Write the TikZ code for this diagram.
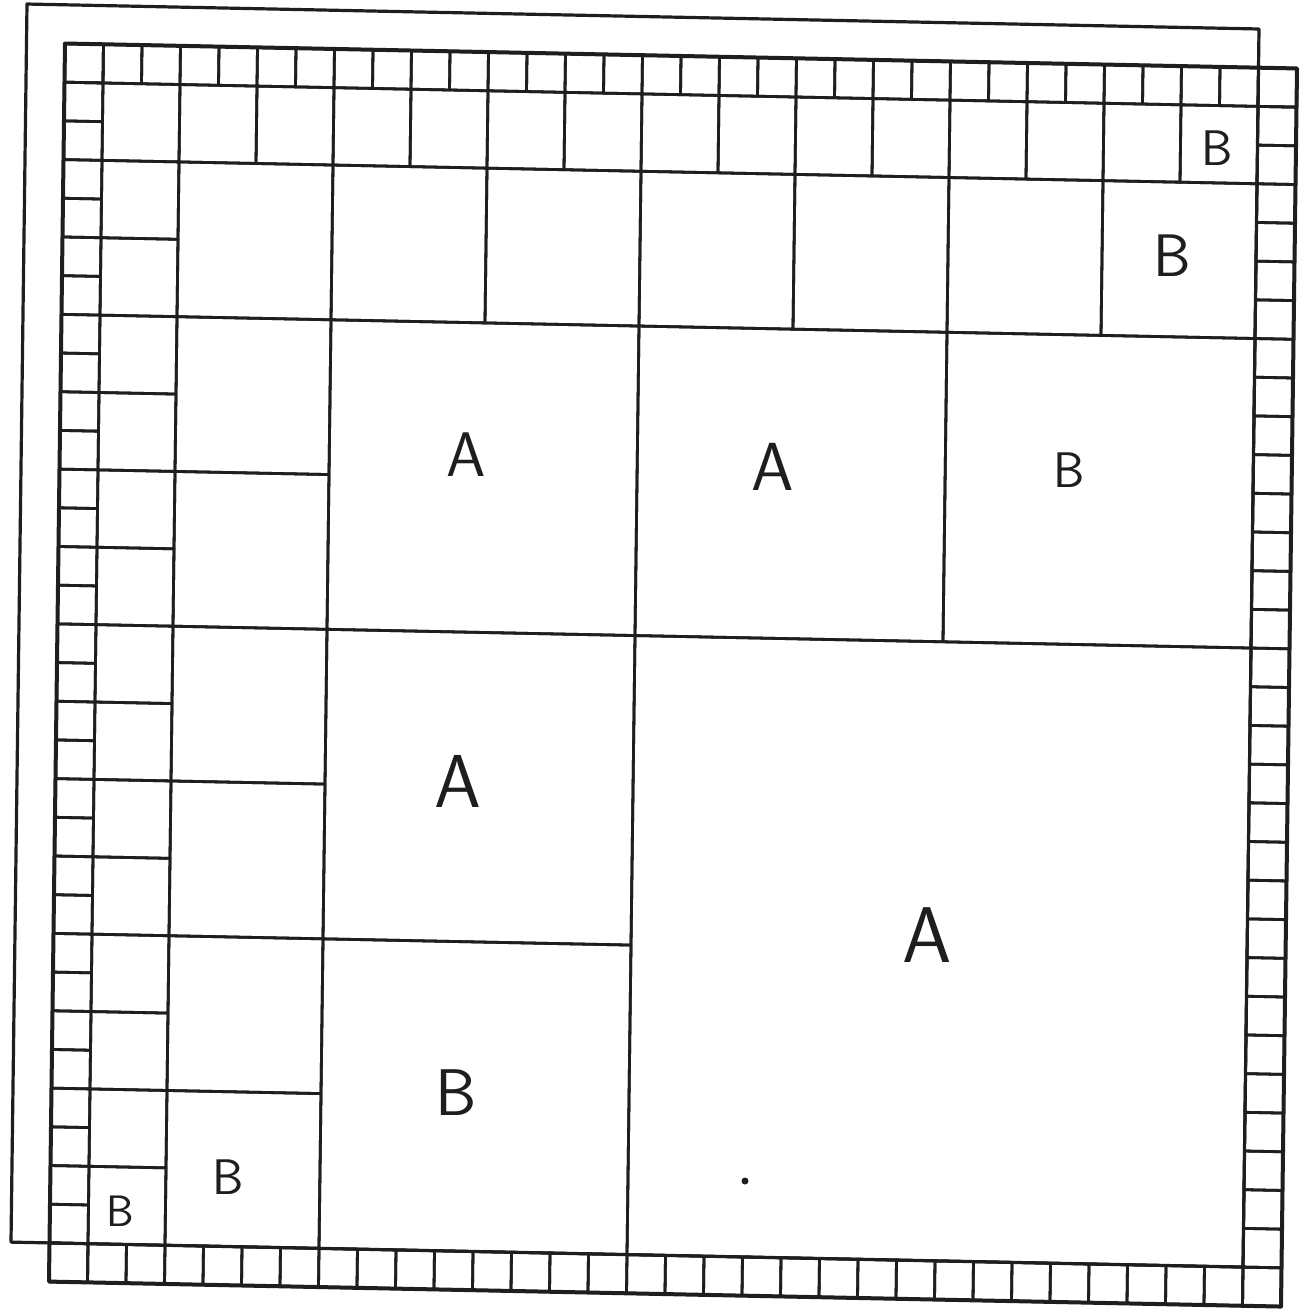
\documentclass[tikz,border=0pt]{standalone}
\definecolor{pencil}{HTML}{1E1E1E}
\tikzset{
  cell/.style={draw=pencil, line width=2.8pt, line join=round, line cap=round},
  frame/.style={draw=pencil, line width=4pt, line join=round},
  sheet/.style={draw=pencil, line width=3.2pt, line join=round},
  lett/.style={text=pencil, inner sep=0pt, font=\sffamily\fontsize{#1}{#1}\selectfont},
}
\newcommand\sqcell[3]{\draw[cell] (#1,#2) -- ++(#3,0) -- ++(0,#3) -- ++(-#3,0) -- cycle;}
\begin{document}
\begin{tikzpicture}[x=1pt,y=-1pt]
\useasboundingbox (0,0) rectangle (1305,1310);
\fill[white] (0,0) rectangle (1305,1310);
\begin{scope}[shift={(65,43.5)}, x={(38.5pt,-0.78pt)}, y={(-0.5pt,-38.69pt)}]
  % back sheet
  \draw[sheet] (-1,-1) -- (31,-1) -- (31,31) -- (-1,31) -- cycle;
  % level 1 border cells
  \foreach \i in {0,...,31} {
    \sqcell{\i}{0}{1}
    \sqcell{\i}{31}{1}
    \sqcell{0}{\i}{1}
    \sqcell{31}{\i}{1}
  }
  % level 2
  \foreach \i in {1,3,...,29} {\sqcell{\i}{1}{2}}
  \foreach \j in {3,5,...,29} {\sqcell{1}{\j}{2}}
  % level 3
  \foreach \i in {3,7,...,27} {\sqcell{\i}{3}{4}}
  \foreach \j in {7,11,...,27} {\sqcell{3}{\j}{4}}
  % level 4
  \sqcell{7}{7}{8}
  \sqcell{15}{7}{8}
  \sqcell{23}{7}{8}
  \sqcell{7}{15}{8}
  \sqcell{7}{23}{8}
  % level 5
  \sqcell{15}{15}{16}
  % main frame
  \draw[frame] (0,0) -- (32,0) -- (32,32) -- (0,32) -- cycle;
\end{scope}
% labels
\node[lett=63] (a1) at (466,455) {A};
\node[lett=68] (a2) at (773,467) {A};
\node[lett=50] (b1) at (1069,470) {B};
\node[lett=75] (a3) at (458,781) {A};
\node[lett=79] (a4) at (927,935) {A};
\node[lett=66] (b2) at (456,1093) {B};
\node[lett=50] (b3) at (228,1177) {B};
\node[lett=44] (b4) at (120,1211) {B};
\node[lett=50] (b5) at (1217,148) {B};
\node[lett=60] (b6) at (1172,256) {B};
\fill[pencil] (745,1181) circle (3.5);
\end{tikzpicture}
\end{document}
